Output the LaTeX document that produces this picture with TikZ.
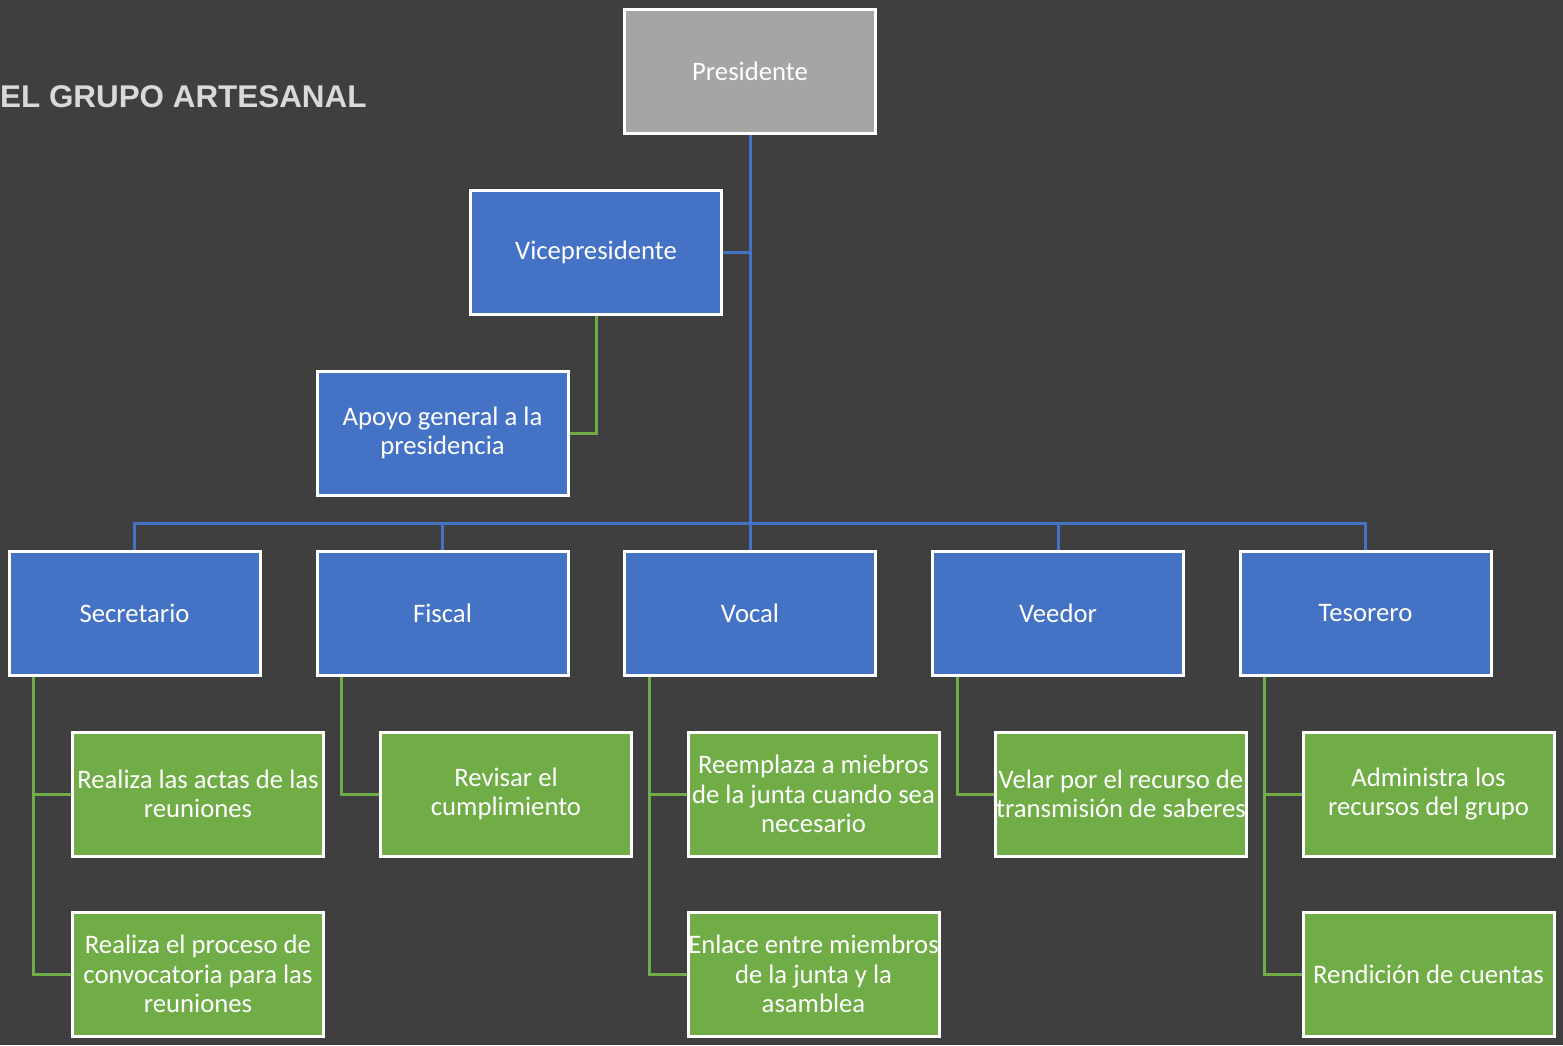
\documentclass[tikz,border=0pt]{standalone}
\usepackage{fontspec}
\setmainfont{Carlito}
\newfontfamily\titlefont{Liberation Sans}
\definecolor{bgc}{HTML}{3F3F3F}
\definecolor{blu}{HTML}{4472C4}
\definecolor{grn}{HTML}{70AD47}
\definecolor{gry}{HTML}{A5A5A5}
\definecolor{ttl}{HTML}{D9D9D9}
\begin{document}
\begin{tikzpicture}[x=1pt,y=-1pt,
  box/.style={draw=white,line width=3pt,minimum width=251pt,minimum height=124pt,
    inner sep=0pt,text=white,align=center,font=\fontsize{26.7}{29.5}\selectfont},
  bbox/.style={box,fill=blu},
  gbox/.style={box,fill=grn},
  pbox/.style={box,fill=gry},
  bline/.style={draw=blu,line width=3pt},
  gline/.style={draw=grn,line width=3pt}]
\fill[bgc] (0,0) rectangle (1563,1045);
\useasboundingbox (0,0) rectangle (1563,1045);
\node[anchor=base west,inner sep=0pt,text=ttl,font=\titlefont\bfseries\fontsize{31.4}{36}\selectfont] (title) at (0,107) {EL GRUPO ARTESANAL};
\coordinate (pc) at (750,71.5);
\coordinate (vc) at (596,252.5);
\coordinate (ac) at (442.5,433);
\coordinate (c1) at (134.5,613.5);
\coordinate (c2) at (442.5,613.5);
\coordinate (c3) at (750,613.5);
\coordinate (c4) at (1058,613.5);
\coordinate (c5) at (1365.5,613.5);
\node[pbox] (pres) at (pc) {Presidente};
\node[bbox] (vice) at (vc) {Vicepresidente};
\node[bbox] (apoyo) at (ac) {Apoyo general a la\\presidencia};
\node[bbox] (sec) at (c1) {Secretario};
\node[bbox] (fis) at (c2) {Fiscal};
\node[bbox] (voc) at (c3) {Vocal};
\node[bbox] (vee) at (c4) {Veedor};
\node[bbox] (tes) at (c5) {Tesorero};
\node[gbox] (sec1) at (198,794) {Realiza las actas de las\\reuniones};
\node[gbox] (sec2) at (198,974) {Realiza el proceso de\\convocatoria para las\\reuniones};
\node[gbox] (fis1) at (506,794) {Revisar el\\cumplimiento};
\node[gbox] (voc1) at (813.5,794) {Reemplaza a miebros\\de la junta cuando sea\\necesario};
\node[gbox] (voc2) at (813.5,974) {Enlace entre miembros\\de la junta y la\\asamblea};
\node[gbox] (vee1) at (1121,794) {Velar por el recurso de\\transmisión de saberes};
\node[gbox] (tes1) at (1428.5,794) {Administra los\\recursos del grupo};
\node[gbox] (tes2) at (1428.5,974) {Rendición de cuentas};
% blue connectors
\draw[bline] (pres.south) -- (voc.north);
\draw[bline] (vice.east) -- (vice.east -| pres.south);
\draw[bline] (sec.north) -- ++(0,-27) -| (tes.north);
\draw[bline] (fis.north) -- ++(0,-27);
\draw[bline] (vee.north) -- ++(0,-27);
% green connectors
\draw[gline] (vice.south) |- (apoyo.east);
\draw[gline] ([xshift=26pt]sec.south west) |- (sec1.west);
\draw[gline] ([xshift=26pt]sec.south west) |- (sec2.west);
\draw[gline] ([xshift=26pt]fis.south west) |- (fis1.west);
\draw[gline] ([xshift=26pt]voc.south west) |- (voc1.west);
\draw[gline] ([xshift=26pt]voc.south west) |- (voc2.west);
\draw[gline] ([xshift=26pt]vee.south west) |- (vee1.west);
\draw[gline] ([xshift=26pt]tes.south west) |- (tes1.west);
\draw[gline] ([xshift=26pt]tes.south west) |- (tes2.west);
\end{tikzpicture}
\end{document}
